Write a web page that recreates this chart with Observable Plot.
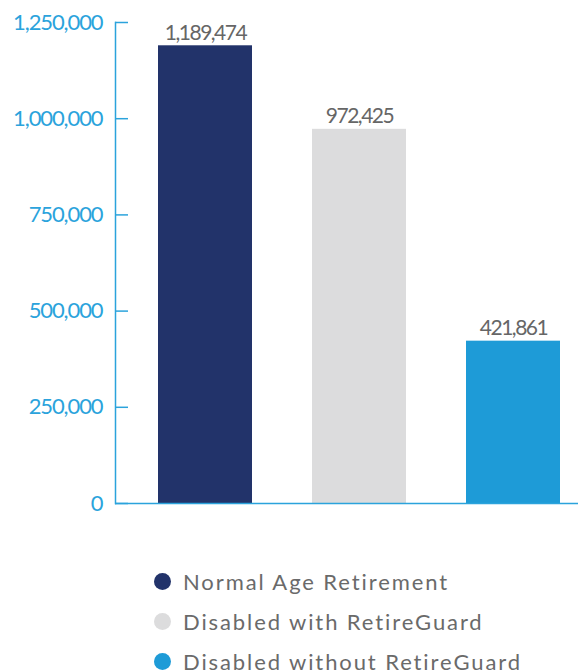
<!DOCTYPE html>
<html>
<head>
<meta charset="utf-8">
<script src="https://cdn.jsdelivr.net/npm/d3@7"></script>
<script src="https://cdn.jsdelivr.net/npm/@observablehq/plot@0.6"></script>
<style>
  body { margin: 0; background: #fff; font-family: Lato, "Open Sans", sans-serif; }
  #legend { margin-top: 31px; padding-left: 154px; }
  .row { display: flex; align-items: center; height: 40px; font-size: 22px; letter-spacing: 1.9px; color: #6a6a6a; }
  .dot { width: 17px; height: 17px; border-radius: 50%; margin-right: 12px; flex: none; }
  .vlabels text { letter-spacing: -1.5px; }
  .ylabels text { letter-spacing: -1.1px; }
</style>
</head>
<body>
<div id="chart"></div>
<div id="legend"></div>
<script>
const categories = ["Normal Age Retirement", "Disabled with RetireGuard", "Disabled without RetireGuard"];
const values = [1189474, 972425, 421861];
const colors = ["#22336a", "#dcdcdd", "#1e9bd7"];
const yTicks = [0, 250000, 500000, 750000, 1000000, 1250000];

const data = categories.map((c, i) => ({category: c, value: values[i]}));
const axisColor = "#2ba3dc";
const fmt = d3.format(",");

const chart = Plot.plot({
  width: 578,
  height: 530,
  marginTop: 22,
  marginBottom: 27,
  marginLeft: 115,
  marginRight: 0,
  style: {fontFamily: "Lato, sans-serif", background: "#fff"},
  x: {domain: categories, range: [158, 560], paddingInner: 0.39, paddingOuter: 0, axis: null},
  y: {domain: [0, 1250000], axis: null},
  color: {domain: categories, range: colors},
  marks: [
    Plot.barY(data, {x: "category", y: "value", fill: "category"}),
    Plot.text(data, {x: "category", y: "value", text: d => fmt(d.value), lineAnchor: "bottom", dy: -6, fontSize: 21, fill: "#666", className: "vlabels"}),
    Plot.ruleY([0], {stroke: axisColor, strokeWidth: 1.5}),
    Plot.frame({anchor: "left", stroke: axisColor, strokeWidth: 1.5}),
    Plot.tickY(yTicks, {y: d => d, insetRight: 450, stroke: axisColor, strokeWidth: 1.5}),
    Plot.axisY(yTicks, {anchor: "left", tickSize: 0, tickPadding: 13, tickFormat: fmt, fill: axisColor, fontSize: 22, label: null, className: "ylabels"})
  ]
});
document.getElementById("chart").appendChild(chart);

const legend = document.getElementById("legend");
categories.forEach((c, i) => {
  const row = document.createElement("div");
  row.className = "row";
  const dot = document.createElement("span");
  dot.className = "dot";
  dot.style.background = colors[i];
  const label = document.createElement("span");
  label.textContent = c;
  row.appendChild(dot);
  row.appendChild(label);
  legend.appendChild(row);
});
</script>
</body>
</html>
